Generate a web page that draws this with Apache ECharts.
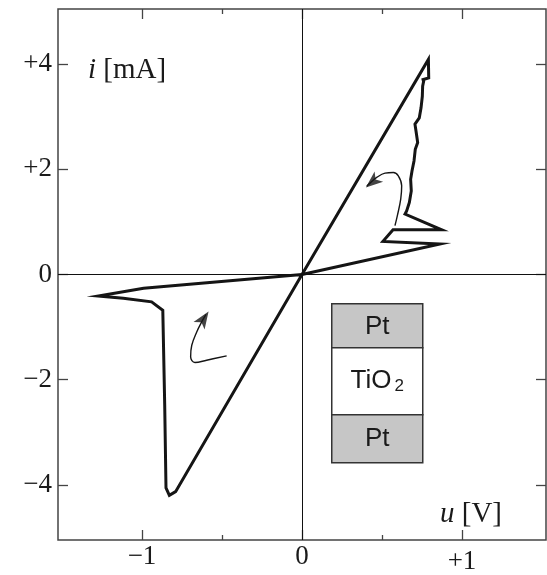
<!DOCTYPE html>
<html><head><meta charset="utf-8">
<script src="https://cdn.jsdelivr.net/npm/echarts@6/dist/echarts.min.js"></script>
<style>html,body{margin:0;padding:0;background:#fff}#c{width:547px;height:575px}</style>
</head><body><div id="c"></div>
<script>
// Positive lobe (u in V, i in mA): origin -> peak -> jagged decay -> spikes -> origin
const posU = [0, 0.790, 0.792, 0.748, 0.7625, 0.754, 0.752, 0.744, 0.733, 0.706, 0.7125, 0.723, 0.708, 0.700, 0.6875, 0.679, 0.683, 0.671, 0.654, 0.644, 0.873, 0.569, 0.506, 0.8625, 0];
const posI = [0, 4.09, 3.74, 3.70, 3.71, 3.58, 3.39, 3.17, 2.98, 2.86, 2.73, 2.51, 2.38, 2.16, 1.97, 1.81, 1.59, 1.37, 1.21, 1.15, 0.85, 0.85, 0.63, 0.58, 0];
// Negative lobe
const negU = [0, -0.99, -1.273, -1.117, -0.94, -0.87, -0.858, -0.85, -0.829, -0.79, 0];
const negI = [0, -0.26, -0.41, -0.45, -0.52, -0.68, -2.50, -4.06, -4.20, -4.13, 0];
// Direction arrows (annotation curves)
const arrowPosU = [0.581, 0.596, 0.617, 0.623, 0.602, 0.571, 0.519, 0.467, 0.425, 0.405];
const arrowPosI = [0.929, 1.118, 1.435, 1.687, 1.877, 1.941, 1.928, 1.846, 1.738, 1.68];
const arrowNegU = [-0.471, -0.596, -0.669, -0.696, -0.689, -0.658, -0.627, -0.60];
const arrowNegI = [-1.547, -1.630, -1.674, -1.566, -1.346, -1.092, -0.902, -0.76];
const arrowHeadU = [0.399, -0.584];
const arrowHeadI = [1.653, -0.705];
// Ticks
const xMajorTicks = [-1, 0, 1];
const xMinorTicks = [-0.5, 0.5];
const yTicks = [-4, -2, 0, 2, 4];

const zip = (a, b) => a.map((v, k) => [v, b[k]]);
const fmt = v => v > 0 ? '+' + v : (v < 0 ? '\u2212' + Math.abs(v) : '0');
const serif = '"Liberation Serif", "DejaVu Serif", serif';
const sans = '"Liberation Sans", Arial, sans-serif';
const FS = 27;
const NS = 29;

const xBase = {
  type: 'value', min: -1.525, max: 1.525, gridIndex: 0,
  axisLine: { show: false, onZero: false },
  splitLine: { show: false }
};
const yBase = {
  type: 'value', min: -5.05, max: 5.05, gridIndex: 0,
  axisLine: { show: false, onZero: false },
  splitLine: { show: false }
};

const chart = echarts.init(document.getElementById('c'), null, { renderer: 'canvas' });
chart.setOption({
  animation: false,
  backgroundColor: '#fff',
  grid: { left: 58, right: 1, top: 9, bottom: 33, show: true, borderColor: '#444', borderWidth: 1.5 },
  xAxis: [
    Object.assign({}, xBase, {
      position: 'bottom',
      axisTick: { show: true, inside: true, length: 10, customValues: xMajorTicks, lineStyle: { color: '#444', width: 1.3 } },
      axisLabel: {
        show: true, customValues: xMajorTicks, margin: 3,
        fontFamily: serif, fontSize: FS, color: '#1a1a1a',
        formatter: v => v > 0 ? '{low|+' + v + '}' : fmt(v),
        rich: { low: { fontFamily: serif, fontSize: FS, color: '#1a1a1a', padding: [5, 0, 0, 0] } }
      }
    }),
    Object.assign({}, xBase, {
      position: 'bottom',
      axisTick: { show: true, inside: true, length: 5, customValues: xMinorTicks, lineStyle: { color: '#444', width: 1.3 } },
      axisLabel: { show: false }
    }),
    Object.assign({}, xBase, {
      position: 'top',
      axisTick: { show: true, inside: true, length: 10, customValues: xMajorTicks, lineStyle: { color: '#444', width: 1.3 } },
      axisLabel: { show: false }
    }),
    Object.assign({}, xBase, {
      position: 'top',
      axisTick: { show: true, inside: true, length: 5, customValues: xMinorTicks, lineStyle: { color: '#444', width: 1.3 } },
      axisLabel: { show: false }
    })
  ],
  yAxis: [
    Object.assign({}, yBase, {
      position: 'left',
      axisTick: { show: true, inside: true, length: 10, customValues: yTicks, lineStyle: { color: '#444', width: 1.3 } },
      axisLabel: { show: true, customValues: yTicks, margin: 6, fontFamily: serif, fontSize: FS, color: '#1a1a1a', formatter: fmt }
    }),
    Object.assign({}, yBase, {
      position: 'right',
      axisTick: { show: true, inside: true, length: 10, customValues: yTicks, lineStyle: { color: '#444', width: 1.3 } },
      axisLabel: { show: false }
    })
  ],
  series: [
    {
      type: 'line', xAxisIndex: 0, yAxisIndex: 0, data: zip(posU, posI),
      showSymbol: false, symbol: 'none', silent: true,
      lineStyle: { color: '#151515', width: 3, join: 'miter', miterLimit: 12 },
      markLine: {
        silent: true, symbol: ['none', 'none'], label: { show: false },
        lineStyle: { color: '#111', width: 1, type: 'solid' },
        data: [{ xAxis: 0 }, { yAxis: 0 }]
      },
      z: 3
    },
    {
      type: 'line', xAxisIndex: 0, yAxisIndex: 0, data: zip(negU, negI),
      showSymbol: false, symbol: 'none', silent: true,
      lineStyle: { color: '#151515', width: 3, join: 'miter', miterLimit: 12 },
      z: 3
    },
    {
      type: 'line', xAxisIndex: 0, yAxisIndex: 0, data: zip(arrowPosU, arrowPosI),
      showSymbol: false, symbol: 'none', smooth: 0.4, silent: true,
      lineStyle: { color: '#151515', width: 1.4 }
    },
    {
      type: 'line', xAxisIndex: 0, yAxisIndex: 0, data: zip(arrowNegU, arrowNegI),
      showSymbol: false, symbol: 'none', smooth: 0.4, silent: true,
      lineStyle: { color: '#151515', width: 1.4 }
    },
    {
      type: 'scatter', xAxisIndex: 0, yAxisIndex: 0, silent: true,
      symbol: 'arrow', symbolSize: [10, 17],
      itemStyle: { color: '#151515' },
      data: [
        { value: [arrowHeadU[0], arrowHeadI[0]], symbolRotate: 130 },
        { value: [arrowHeadU[1], arrowHeadI[1]], symbolRotate: -34 }
      ],
      z: 4
    }
  ],
  graphic: [
    {
      type: 'text', left: 88, top: 56, z: 10,
      style: {
        text: '{it|i} [mA]', fontFamily: serif, fontSize: NS, fill: '#1a1a1a',
        rich: { it: { fontStyle: 'italic', fontFamily: serif, fontSize: NS, fill: '#1a1a1a' } }
      }
    },
    {
      type: 'text', left: 440, top: 500, z: 10,
      style: {
        text: '{it|u} [V]', fontFamily: serif, fontSize: NS, fill: '#1a1a1a',
        rich: { it: { fontStyle: 'italic', fontFamily: serif, fontSize: NS, fill: '#1a1a1a' } }
      }
    },
    {
      type: 'group', left: 331, top: 303, z: 10,
      children: [
        { type: 'rect', shape: { x: 0, y: 0, width: 91, height: 44 }, style: { fill: '#c6c6c6', stroke: '#333', lineWidth: 1.5 } },
        { type: 'rect', shape: { x: 0, y: 44, width: 91, height: 67 }, style: { fill: '#fff', stroke: '#333', lineWidth: 1.5 } },
        { type: 'rect', shape: { x: 0, y: 111, width: 91, height: 48 }, style: { fill: '#c6c6c6', stroke: '#333', lineWidth: 1.5 } },
        { type: 'text', x: 45.5, y: 23, style: { text: 'Pt', fontFamily: sans, fontSize: 26, fill: '#1a1a1a', align: 'center', verticalAlign: 'middle' } },
        { type: 'text', x: 45.5, y: 77, style: {
            text: 'TiO{sub|2}', fontFamily: sans, fontSize: 26, fill: '#1a1a1a', align: 'center', verticalAlign: 'middle',
            rich: { sub: { fontFamily: sans, fontSize: 17, fill: '#1a1a1a', padding: [11, 0, 0, 3] } }
          } },
        { type: 'text', x: 45.5, y: 135, style: { text: 'Pt', fontFamily: sans, fontSize: 26, fill: '#1a1a1a', align: 'center', verticalAlign: 'middle' } }
      ]
    }
  ]
});
</script>
</body></html>
